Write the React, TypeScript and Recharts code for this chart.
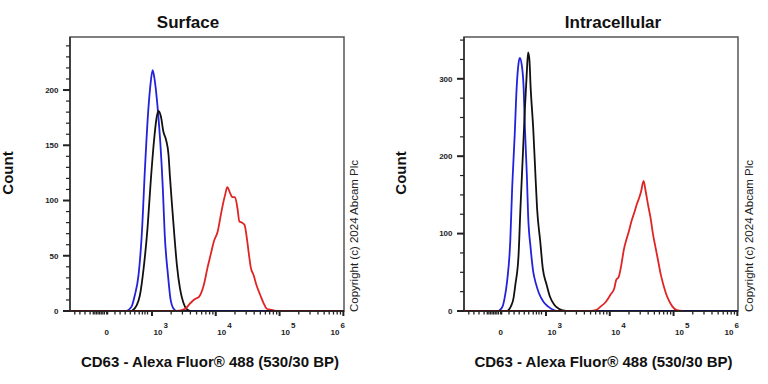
import React from "react";
import { LineChart, Line, XAxis, YAxis, ReferenceArea } from "recharts";

// x positions are in display decades of the biexponential axis: 3 = 10^3, 4 = 10^4 ...
// the linear "0" sits at about 2.29 on that scale
const X_DOMAIN: [number, number] = [1.715, 6.01];
const ZERO_POS = 2.29;

const xLabels = [
  { pos: ZERO_POS, base: "0", exp: "" },
  { pos: 3, base: "10", exp: "3" },
  { pos: 4, base: "10", exp: "4" },
  { pos: 5, base: "10", exp: "5" },
  { pos: 6, base: "10", exp: "6" },
];
const majorDecades = [3, 4, 5, 6];
const linearMinorTicks = [
  1.79, 1.87, 1.95, 2.03, 2.08, 2.105, 2.13, 2.155, 2.18, 2.205, 2.23, 2.255, 2.29, 2.305,
  2.42, 2.5, 2.58, 2.66, 2.73, 2.8, 2.85, 2.89, 2.93,
];
const logMinorTicks = [3, 4, 5].flatMap((d) =>
  [2, 3, 4, 5, 6, 7, 8, 9].map((m) => d + Math.log10(m))
);
const xTicks = [...linearMinorTicks, ...majorDecades, ...logMinorTicks].sort((a, b) => a - b);

// [position, count]
const surfaceBlue = [
  [2.6, 0], [2.68, 4], [2.73, 14], [2.79, 33], [2.84, 69], [2.89, 129], [2.94, 180],
  [2.98, 207], [3.01, 218], [3.04, 210], [3.06, 201], [3.09, 183], [3.13, 153], [3.17, 111],
  [3.2, 69], [3.25, 33], [3.29, 11], [3.34, 2], [3.39, 0], [6.01, 0],
];
const surfaceBlack = [
  [2.68, 0], [2.76, 5], [2.81, 14], [2.87, 39], [2.93, 75], [2.98, 117], [3.03, 153],
  [3.07, 174], [3.1, 181], [3.14, 176], [3.18, 162], [3.22, 155], [3.26, 141], [3.28, 123],
  [3.31, 99], [3.35, 69], [3.39, 42], [3.44, 20], [3.49, 8], [3.54, 2], [3.61, 0],
];
const surfaceRed = [
  [1.715, 0], [3.39, 0], [3.52, 2], [3.6, 7], [3.68, 11], [3.74, 13], [3.81, 23], [3.87, 39],
  [3.92, 51], [3.97, 63], [4.03, 72], [4.07, 84], [4.11, 96], [4.15, 106], [4.18, 112],
  [4.23, 106], [4.26, 103], [4.3, 103], [4.34, 93], [4.37, 81], [4.41, 80], [4.45, 78],
  [4.48, 69], [4.52, 51], [4.55, 39], [4.59, 33], [4.64, 23], [4.7, 14], [4.75, 7], [4.8, 2],
  [4.88, 1], [4.96, 0], [6.01, 0],
];

const intraBlue = [
  [2.26, 0], [2.32, 6], [2.35, 16], [2.39, 38], [2.44, 90], [2.47, 159], [2.51, 228],
  [2.54, 288], [2.57, 320], [2.59, 327], [2.62, 318], [2.65, 288], [2.67, 236], [2.7, 176],
  [2.72, 124], [2.76, 81], [2.8, 51], [2.84, 36], [2.89, 23], [2.96, 12], [3.03, 6],
  [3.13, 1], [3.2, 0], [6.01, 0],
];
const intraBlack = [
  [2.4, 0], [2.45, 6], [2.49, 16], [2.52, 34], [2.57, 72], [2.6, 133], [2.64, 206],
  [2.67, 262], [2.7, 309], [2.72, 334], [2.74, 325], [2.76, 288], [2.8, 236], [2.83, 184],
  [2.86, 133], [2.91, 90], [2.95, 55], [3.01, 34], [3.06, 19], [3.13, 8], [3.2, 3], [3.31, 0],
];
const intraRed = [
  [1.715, 0], [3.7, 0], [3.78, 1], [3.86, 6], [3.94, 12], [4.01, 21], [4.07, 29], [4.1, 40],
  [4.14, 44], [4.18, 59], [4.22, 79], [4.26, 92], [4.3, 103], [4.34, 116], [4.38, 126],
  [4.42, 137], [4.46, 146], [4.49, 154], [4.53, 168], [4.56, 156], [4.6, 137], [4.64, 120],
  [4.68, 98], [4.72, 81], [4.76, 64], [4.8, 47], [4.84, 34], [4.88, 23], [4.93, 13],
  [4.98, 6], [5.05, 1], [5.14, 0],
];

const surfaceYTicks = Array.from({ length: 25 }, (_, i) => i * 10);
const intraYTicks = Array.from({ length: 15 }, (_, i) => i * 25);

const FONT = "'Liberation Sans', Arial, sans-serif";
const toPoints = (arr: number[][]) => arr.map(([x, count]) => ({ x, count }));

const YTick = ({ x, y, payload, major }: any) => {
  const isMajor = payload.value % major === 0;
  return (
    <g>
      <line x1={x} x2={x - (isMajor ? 7 : 4)} y1={y} y2={y} stroke="#222" strokeWidth={isMajor ? 2 : 1.2} />
      {isMajor && (
        <text x={x - 11.5} y={y} dy={2.9} textAnchor="end" fontSize={8} fontWeight="bold" fill="#222" fontFamily={FONT}>
          {payload.value}
        </text>
      )}
    </g>
  );
};

const XTick = ({ x, y, payload }: any) => {
  const v = payload.value;
  const isMajor = majorDecades.includes(v);
  const lab = xLabels.find((l) => Math.abs(l.pos - v) < 1e-6);
  return (
    <g>
      <line x1={x} x2={x} y1={y} y2={y + (isMajor ? 5 : 3.5)} stroke="#222" strokeWidth={isMajor ? 2 : 1.3} />
      {lab && !lab.exp && (
        <text x={x} y={y + 24} textAnchor="middle" fontSize={8} fontWeight="bold" fill="#222" fontFamily={FONT}>
          {lab.base}
        </text>
      )}
      {lab && lab.exp && (
        <text
          x={x + 1.5}
          y={y + 24}
          textAnchor={lab.exp === "6" ? "end" : "start"}
          fontSize={8}
          fontWeight="bold"
          fill="#222"
          fontFamily={FONT}
        >
          <tspan>{lab.base}</tspan>
          <tspan dx={1} dy={-7.5}>{lab.exp}</tspan>
        </text>
      )}
    </g>
  );
};

interface PanelProps {
  left: number;
  blue: number[][];
  black: number[][];
  red: number[][];
  yMax: number;
  yTicks: number[];
  yMajor: number;
  marginLeft: number;
  marginRight: number;
}

const Panel = ({ left, blue, black, red, yMax, yTicks, yMajor, marginLeft, marginRight }: PanelProps) => (
  <div style={{ position: "absolute", left, top: 0 }}>
    <LineChart width={384} height={384} margin={{ top: 37, right: marginRight, bottom: 33, left: marginLeft }}>
      <XAxis
        type="number"
        dataKey="x"
        domain={X_DOMAIN}
        ticks={xTicks}
        interval={0}
        allowDataOverflow
        height={40}
        tickSize={0}
        tickMargin={0}
        tickLine={false}
        axisLine={{ stroke: "#111", strokeWidth: 1.6 }}
        tick={(p: any) => <XTick {...p} />}
      />
      <YAxis
        type="number"
        domain={[0, yMax]}
        ticks={yTicks}
        interval={0}
        allowDataOverflow
        width={30}
        tickSize={0}
        tickMargin={0}
        tickLine={false}
        axisLine={{ stroke: "#333", strokeWidth: 1.6 }}
        tick={(p: any) => <YTick {...p} major={yMajor} />}
      />
      <ReferenceArea x1={X_DOMAIN[0]} x2={X_DOMAIN[1]} y1={0} y2={yMax} fill="none" stroke="#555" strokeWidth={1.5} />
      <Line data={toPoints(blue)} dataKey="count" type="monotone" stroke="#2222dd" strokeWidth={1.8} dot={false} isAnimationActive={false} />
      <Line data={toPoints(black)} dataKey="count" type="monotone" stroke="#111111" strokeWidth={1.8} dot={false} isAnimationActive={false} />
      <Line data={toPoints(red)} dataKey="count" type="monotone" stroke="#e02424" strokeWidth={1.8} dot={false} isAnimationActive={false} />
    </LineChart>
  </div>
);

export default function App() {
  const xLabel = "CD63 - Alexa Fluor® 488 (530/30 BP)";
  const copyright = "Copyright (c) 2024 Abcam Plc";
  return (
    <div style={{ position: "fixed", left: 0, top: 0, width: 768, height: 384, background: "#fff", fontFamily: FONT }}>
      <Panel left={0} blue={surfaceBlue} black={surfaceBlack} red={surfaceRed} yMax={248} yTicks={surfaceYTicks} yMajor={50} marginLeft={40} marginRight={40} />
      <Panel left={384} blue={intraBlue} black={intraBlack} red={intraRed} yMax={354} yTicks={intraYTicks} yMajor={100} marginLeft={50} marginRight={30} />
      <svg width={768} height={384} style={{ position: "absolute", left: 0, top: 0, pointerEvents: "none" }} fontFamily={FONT}>
        <text x={188} y={28} textAnchor="middle" fontSize={17} fontWeight="bold" fill="#111">Surface</text>
        <text x={613} y={28} textAnchor="middle" fontSize={17} fontWeight="bold" fill="#111">Intracellular</text>
        <text transform="translate(13,173) rotate(-90)" textAnchor="middle" fontSize={15} fontWeight="bold" fill="#111">Count</text>
        <text transform="translate(406,173) rotate(-90)" textAnchor="middle" fontSize={15} fontWeight="bold" fill="#111">Count</text>
        <text x={210} y={367} textAnchor="middle" fontSize={15} fontWeight="bold" fill="#111">{xLabel}</text>
        <text x={603.5} y={367} textAnchor="middle" fontSize={15} fontWeight="bold" fill="#111">{xLabel}</text>
        <text transform="translate(358,236) rotate(-90)" textAnchor="middle" fontSize={11.5} fill="#222">{copyright}</text>
        <text transform="translate(753,236) rotate(-90)" textAnchor="middle" fontSize={11.5} fill="#222">{copyright}</text>
      </svg>
    </div>
  );
}
